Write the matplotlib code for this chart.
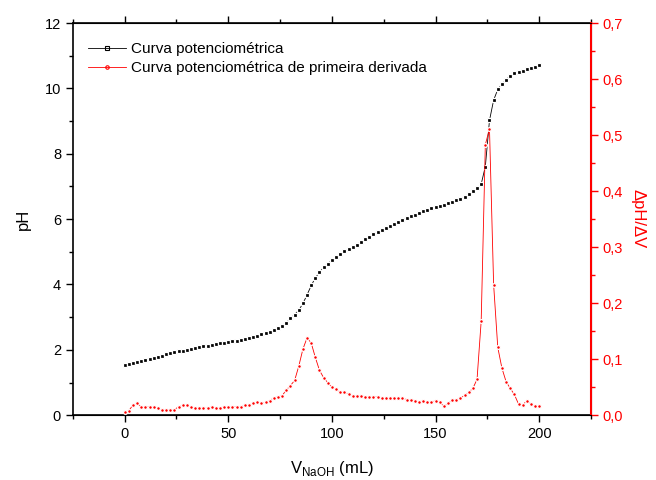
import numpy as np
import matplotlib.pyplot as plt
from matplotlib.ticker import MultipleLocator, FuncFormatter

plt.rcParams['font.family'] = ['Liberation Sans', 'DejaVu Sans']

# volume of NaOH added (mL)
volume = [0, 2, 4, 6, 8, 10, 12, 14, 16, 18, 20, 22, 24, 26, 28, 30, 32, 34,
          36, 38, 40, 42, 44, 46, 48, 50, 52, 54, 56, 58, 60, 62, 64, 66, 68,
          70, 72, 74, 76, 78, 80, 82, 84, 86, 88, 90, 92, 94, 96, 98, 100,
          102, 104, 106, 108, 110, 112, 114, 116, 118, 120, 122, 124, 126,
          128, 130, 132, 134, 136, 138, 140, 142, 144, 146, 148, 150, 152,
          154, 156, 158, 160, 162, 164, 166, 168, 170, 172, 174, 176, 178,
          180, 182, 184, 186, 188, 190, 192, 194, 196, 198, 200]

ph = [1.55, 1.56, 1.61, 1.64, 1.67, 1.69, 1.72, 1.76, 1.79, 1.82, 1.86, 1.89,
      1.92, 1.95, 1.97, 2.00, 2.03, 2.06, 2.08, 2.11, 2.13, 2.15, 2.18, 2.20,
      2.22, 2.24, 2.26, 2.28, 2.30, 2.32, 2.35, 2.39, 2.43, 2.47, 2.51, 2.56,
      2.61, 2.67, 2.74, 2.83, 2.96, 3.08, 3.21, 3.42, 3.68, 3.97, 4.20, 4.38,
      4.52, 4.64, 4.74, 4.85, 4.93, 5.01, 5.08, 5.15, 5.22, 5.30, 5.38, 5.45,
      5.53, 5.60, 5.66, 5.72, 5.79, 5.86, 5.92, 5.98, 6.04, 6.09, 6.14, 6.19,
      6.24, 6.29, 6.33, 6.36, 6.40, 6.44, 6.48, 6.52, 6.57, 6.62, 6.68, 6.76,
      6.85, 6.94, 7.07, 7.61, 9.02, 9.64, 9.97, 10.13, 10.26, 10.39, 10.46,
      10.50, 10.53, 10.58, 10.61, 10.66, 10.71]

dph_dv = [0.005, 0.008, 0.018, 0.021, 0.015, 0.015, 0.015, 0.015, 0.0125,
          0.010, 0.010, 0.010, 0.010, 0.015, 0.018, 0.018, 0.015, 0.0125,
          0.0125, 0.0125, 0.0125, 0.015, 0.0125, 0.0125, 0.015, 0.015, 0.015,
          0.015, 0.015, 0.018, 0.018, 0.021, 0.023, 0.021, 0.023, 0.026,
          0.031, 0.033, 0.035, 0.045, 0.053, 0.062, 0.0875, 0.118, 0.138,
          0.129, 0.103, 0.080, 0.067, 0.058, 0.050, 0.046, 0.041, 0.041,
          0.038, 0.035, 0.035, 0.035, 0.033, 0.033, 0.033, 0.033, 0.030,
          0.030, 0.030, 0.030, 0.030, 0.030, 0.028, 0.028, 0.026, 0.023,
          0.026, 0.023, 0.023, 0.026, 0.023, 0.016, 0.021, 0.028, 0.028,
          0.030, 0.036, 0.041, 0.048, 0.064, 0.168, 0.483, 0.511, 0.233,
          0.121, 0.084, 0.060, 0.048, 0.037, 0.020, 0.018, 0.026, 0.020,
          0.016, 0.016]

red = '#ff0000'

fig = plt.figure(figsize=(6.56, 4.8), dpi=100)
ax = fig.add_axes([0.111, 0.135, 0.79, 0.817])
ax2 = ax.twinx()

# small dots with a white rim, so the joining line only shows on steep parts
l1, = ax.plot(volume, ph, color='black', lw=0.6, marker='s', ms=2.3,
              mfc='black', mec='white', mew=0.9,
              label='Curva potenciométrica')
l2, = ax2.plot(volume, dph_dv, color=red, lw=0.6, marker='o', ms=2.7,
               mfc=red, mec='white', mew=0.9,
               label='Curva potenciométrica de primeira derivada')

ax.set_xlim(-25, 225)
ax.set_ylim(0, 12)
ax2.set_ylim(0, 0.7)

ax.xaxis.set_major_locator(MultipleLocator(50))
ax.xaxis.set_minor_locator(MultipleLocator(25))
ax.yaxis.set_major_locator(MultipleLocator(2))
ax.yaxis.set_minor_locator(MultipleLocator(1))
ax2.yaxis.set_major_locator(MultipleLocator(0.1))
ax2.yaxis.set_minor_locator(MultipleLocator(0.05))
ax2.yaxis.set_major_formatter(FuncFormatter(lambda v, p: f'{v:.1f}'.replace('.', ',')))

ax.tick_params(which='both', direction='out', top=True, labelsize=10.5, width=1)
ax.tick_params(which='major', length=5)
ax.tick_params(which='minor', length=3)
ax2.tick_params(which='both', direction='out', colors=red, labelsize=10.5, width=1)
ax2.tick_params(which='major', length=5)
ax2.tick_params(which='minor', length=3)

for s in ['left', 'bottom', 'top']:
    ax.spines[s].set_linewidth(1.2)
ax2.spines['right'].set_color(red)
ax2.spines['right'].set_linewidth(1.5)
ax2.spines['left'].set_visible(False)

ax.set_xlabel(r'V$_{\mathregular{NaOH}}$ (mL)', fontsize=12, labelpad=13)
ax.set_ylabel('pH', fontsize=12, labelpad=10)
ax2.set_ylabel('ΔpH/ΔV', fontsize=12, color=red, rotation=270, labelpad=16)

leg = ax.legend(handles=[l1, l2], loc='upper left', bbox_to_anchor=(0.012, 0.975),
                frameon=False, fontsize=11, handlelength=2.5, handletextpad=0.3,
                labelspacing=0.35, borderaxespad=0.2)
for h in leg.legend_handles:
    h.set_markerfacecolor('none')
    h.set_markeredgecolor(h.get_color())
    h.set_markeredgewidth(0.8)
    h.set_markersize(2.5)

fig.savefig('out.png', dpi=100)
